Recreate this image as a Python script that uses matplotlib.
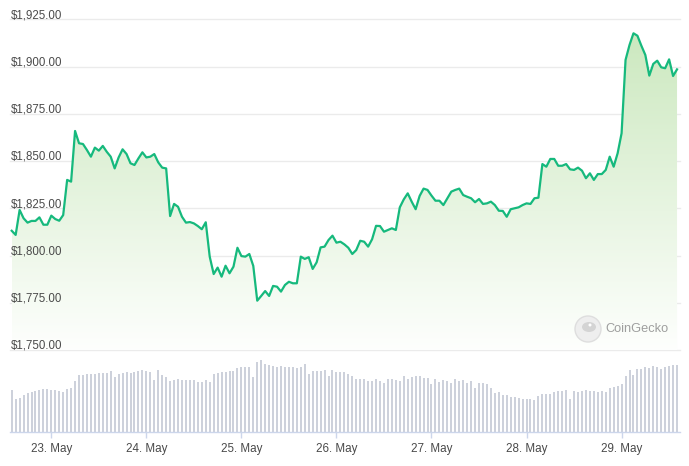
import matplotlib
matplotlib.use('Agg')
import matplotlib.pyplot as plt
import matplotlib.dates as mdates
import matplotlib.transforms as mtransforms
from matplotlib.patches import Polygon, Ellipse
import numpy as np
import pandas as pd

# ---------------- data ----------------
prices = [
    1813.1, 1810.9, 1824.1, 1819.7, 1817.4, 1818.3, 1818.3, 1820.2, 1816.3, 1816.3,
    1821.1, 1819.3, 1818.4, 1821.4, 1840.0, 1839.1, 1865.9, 1859.4, 1859.0, 1855.8,
    1852.3, 1857.1, 1855.5, 1858.0, 1854.9, 1852.3, 1846.1, 1851.9, 1856.2, 1853.7,
    1848.8, 1847.9, 1851.4, 1854.6, 1851.9, 1852.3, 1853.7, 1849.3, 1846.5, 1846.1,
    1820.9, 1827.3, 1825.8, 1820.5, 1817.4, 1817.7, 1817.0, 1815.6, 1813.9, 1817.6,
    1799.4, 1790.2, 1793.6, 1788.8, 1794.6, 1790.6, 1794.1, 1804.1, 1799.7, 1799.4,
    1800.8, 1794.5, 1776.1, 1778.6, 1781.2, 1778.6, 1783.9, 1783.5, 1780.9, 1784.4,
    1786.1, 1785.3, 1785.3, 1799.4, 1798.2, 1799.1, 1792.9, 1796.4, 1804.3, 1804.7,
    1808.2, 1810.5, 1806.8, 1807.3, 1805.9, 1804.1, 1800.8, 1802.9, 1807.8, 1807.3,
    1804.7, 1808.6, 1815.7, 1815.6, 1812.6, 1813.5, 1814.4, 1813.5, 1825.5, 1829.7,
    1832.9, 1828.5, 1824.5, 1831.5, 1835.4, 1834.7, 1831.7, 1829.0, 1829.0, 1826.7,
    1830.3, 1833.8, 1834.7, 1835.4, 1832.0, 1831.1, 1830.3, 1828.2, 1829.9, 1827.3,
    1827.6, 1828.5, 1826.7, 1823.7, 1823.6, 1820.5, 1824.5, 1825.0, 1825.5, 1826.7,
    1827.6, 1827.3, 1830.3, 1830.6, 1848.4, 1847.0, 1851.1, 1851.1, 1847.5, 1847.5,
    1848.4, 1845.6, 1845.3, 1846.5, 1844.9, 1840.9, 1843.5, 1840.0, 1843.1, 1843.1,
    1845.3, 1852.3, 1847.0, 1854.1, 1864.7, 1903.5, 1911.4, 1917.6, 1916.3, 1911.0,
    1906.1, 1895.2, 1901.4, 1903.1, 1899.6, 1899.1, 1903.8, 1895.0, 1898.5,
]

volumes = [
    12.7, 10.0, 10.3, 11.2, 11.8, 12.1, 12.4, 12.7, 13.0, 13.0,
    12.7, 12.7, 12.4, 12.1, 13.0, 13.3, 15.4, 17.2, 17.2, 17.5,
    17.5, 17.5, 17.8, 17.8, 17.8, 18.4, 16.6, 17.5, 17.8, 18.1,
    17.8, 18.1, 18.4, 18.7, 18.4, 18.1, 15.7, 18.7, 17.2, 16.6,
    15.4, 15.7, 16.0, 15.7, 15.7, 15.7, 15.7, 15.1, 15.1, 15.7,
    15.1, 17.5, 17.8, 18.1, 18.1, 18.4, 18.4, 19.3, 19.6, 19.6,
    19.6, 16.6, 21.1, 21.7, 20.5, 20.2, 19.9, 19.6, 19.9, 19.6,
    19.6, 19.6, 19.3, 19.6, 20.5, 17.5, 18.4, 18.4, 18.4, 18.7,
    16.9, 18.7, 18.1, 18.1, 18.1, 17.5, 16.9, 16.0, 16.0, 16.0,
    15.4, 15.4, 16.0, 15.4, 14.8, 16.0, 16.0, 15.7, 15.4, 16.9,
    16.0, 16.6, 16.9, 16.9, 16.3, 16.3, 14.5, 16.0, 15.1, 15.7,
    15.4, 14.8, 16.0, 15.4, 15.7, 14.8, 15.4, 13.3, 14.8, 14.8,
    14.5, 13.3, 11.8, 12.1, 11.2, 11.2, 10.6, 10.6, 10.3, 10.0,
    10.0, 10.0, 9.7, 10.9, 11.5, 11.5, 11.5, 12.1, 12.4, 12.4,
    12.7, 10.0, 12.4, 12.1, 12.4, 12.7, 12.4, 12.4, 12.1, 12.4,
    12.1, 13.3, 13.6, 13.9, 14.5, 16.9, 18.7, 17.2, 19.0, 19.0,
    19.6, 19.3, 19.9, 19.6, 19.0, 19.6, 19.9, 20.2, 20.2,
]

start_time = '2023-05-22 14:00'
day_ticks = ['2023-05-23', '2023-05-24', '2023-05-25', '2023-05-26',
             '2023-05-27', '2023-05-28', '2023-05-29']
day_labels = ['23. May', '24. May', '25. May', '26. May', '27. May', '28. May', '29. May']
price_ticks = [1750, 1775, 1800, 1825, 1850, 1875, 1900, 1925]
price_labels = ['$1,750.00', '$1,775.00', '$1,800.00', '$1,825.00',
                '$1,850.00', '$1,875.00', '$1,900.00', '$1,925.00']
watermark = 'CoinGecko'

# ---------------- figure ----------------
plt.rcParams['font.family'] = ['Liberation Sans', 'DejaVu Sans']
W, H = 689, 466
fig = plt.figure(figsize=(W / 100, H / 100), dpi=100)
fig.patch.set_facecolor('white')

times = pd.date_range(start_time, periods=len(prices), freq='h')
x = mdates.date2num(times.to_pydatetime())
hour = 1.0 / 24
xlim = (x[0] - 0.43 * hour, x[0] + 168.75 * hour)

ax = fig.add_axes([10 / W, (H - 350) / H, 670 / W, (350 - 19.3) / H])
axv = fig.add_axes([10 / W, (H - 432.3) / H, 670 / W, 80.3 / H])

LINE = '#16b97d'
GRID = '#ebebeb'
TXT = '#4a4a4a'

# price axes
ax.set_xlim(*xlim)
ax.set_ylim(price_ticks[0], price_ticks[-1])
for s in ax.spines.values():
    s.set_visible(False)
ax.set_xticks([])
ax.set_yticks([])
ax.patch.set_alpha(0)

for t in price_ticks:
    ax.axhline(t, color=GRID, lw=1.0, zorder=0, clip_on=False)

lab_tr = mtransforms.offset_copy(ax.get_yaxis_transform(), fig=fig, x=0.6, y=1.2, units='dots')
for t, l in zip(price_ticks, price_labels):
    ax.text(0.0, t, l, transform=lab_tr, ha='left', va='baseline',
            fontsize=8.3, color=TXT, zorder=5)

# gradient fill under the line
ymin = price_ticks[0]
ymax = max(prices)
verts = [(x[0], ymin)] + list(zip(x, prices)) + [(x[-1], ymin)]
poly = Polygon(verts, closed=True, facecolor='none', edgecolor='none')
ax.add_patch(poly)
top_c = np.array([0.80, 0.912, 0.75])
bot_c = np.array([0.995, 0.999, 0.993])
tt = np.linspace(0, 1, 256)[:, None]
img = top_c[None, :] * (1 - tt) + bot_c[None, :] * tt
img = np.repeat(img[:, None, :], 2, axis=1)
im = ax.imshow(img, extent=[x[0], x[-1], ymin, ymax], origin='upper',
               aspect='auto', zorder=1, interpolation='bilinear')
im.set_clip_path(poly)
ax.set_xlim(*xlim)
ax.set_ylim(price_ticks[0], price_ticks[-1])

ax.plot(x, prices, color=LINE, lw=1.6, solid_joinstyle='round', zorder=3)

# volume axes
axv.bar(x, volumes, width=0.505 * hour, color='#cdd1db', align='center',
        linewidth=0, zorder=2)
axv.set_xlim(*xlim)
axv.set_ylim(0, 24.1)
for k in ['top', 'left', 'right']:
    axv.spines[k].set_visible(False)
axv.spines['bottom'].set_color('#ccd6eb')
axv.spines['bottom'].set_linewidth(1.0)
axv.set_yticks([])
tick_x = mdates.date2num(pd.to_datetime(day_ticks).to_pydatetime())
axv.set_xticks(tick_x)
axv.set_xticklabels(day_labels)
axv.tick_params(axis='x', colors='#ccd6eb', length=4.5, width=1.0, pad=3.0,
                labelsize=8.4, labelcolor=TXT)
axv.patch.set_alpha(0)

# watermark
def fx(px):
    return px / W

def fy(py):
    return 1 - py / H

r = 13
fig.patches.append(Ellipse((fx(588), fy(329)), 2 * r / W, 2 * r / H, transform=fig.transFigure,
                           facecolor='#eeeeee', edgecolor='#dedede', lw=1.0, zorder=1))
fig.patches.append(Ellipse((fx(589), fy(327)), 14 / W, 10 / H, transform=fig.transFigure,
                           facecolor='#d4d4d4', edgecolor='none', zorder=2))
fig.patches.append(Ellipse((fx(590), fy(325)), 3 / W, 3 / H, transform=fig.transFigure,
                           facecolor='#ffffff', edgecolor='none', zorder=3))
fig.text(fx(605), fy(329), watermark, ha='left', va='center', fontsize=9.2, color='#9e9e9e')

fig.savefig('out.png', dpi=100, facecolor='white')
